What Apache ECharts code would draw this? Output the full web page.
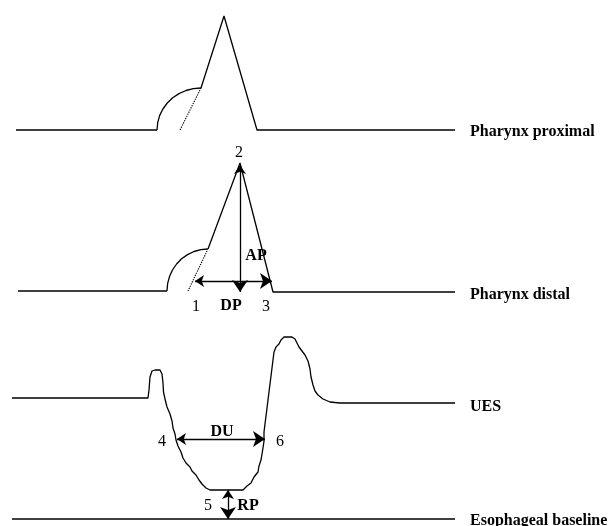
<!DOCTYPE html>
<html>
<head>
<meta charset="utf-8">
<script src="https://cdn.jsdelivr.net/npm/echarts@6/dist/echarts.min.js"></script>
<style>
  html, body { margin: 0; padding: 0; background: #fff; }
  #chart { width: 613px; height: 526px; }
</style>
</head>
<body>
<div id="chart"></div>
<script>
// Schematic pressure traces, drawn in a 613 x 526 diagram space (y grows downward).

// Pharynx proximal: baseline, shoulder, sharp peak, baseline
const proximalTrace = [
  [16, 130], [157, 130]
];
const proximalShoulder = [
  [157, 130], [157.7, 122.7], [159.6, 115.6], [162.9, 109], [167.3, 103],
  [172.7, 97.8], [179, 93.6], [186, 90.5], [193.3, 88.6], [201, 88]
];
const proximalPeak = [
  [201, 88], [224, 16], [257, 130], [455, 130]
];
const proximalDotted = [[201, 88], [180, 130]];

// Pharynx distal
const distalTrace = [
  [18, 291], [167, 291]
];
const distalShoulder = [
  [167, 291], [167.6, 283.7], [169.5, 276.6], [172.5, 270], [176.6, 264],
  [181.6, 258.8], [187.5, 254.6], [194, 251.5], [200.9, 249.6], [208, 249]
];
const distalPeak = [
  [208, 249], [240, 163], [273, 292], [455, 292]
];
const distalDotted = [[207, 251], [188, 291]];

// Upper esophageal sphincter
const uesTrace = [
  [12, 398], [148, 398], [149, 390], [150, 377], [152, 371], [155, 370],
  [160, 370], [162, 374], [163, 383], [163.5, 392], [165, 399], [167, 407],
  [170, 414], [172, 421], [173, 428], [175, 434], [176, 440], [178, 446],
  [181, 452], [183, 458], [186, 463], [190, 467], [192, 471], [196, 475],
  [199, 480], [202, 484], [206, 488], [210, 490], [243, 490], [247, 486],
  [251, 483], [254, 477], [258, 472], [259, 466], [261, 460], [262, 454],
  [263, 448], [264, 441], [264, 432], [265, 424], [266, 416], [267, 408],
  [268, 400], [269, 392], [270, 384], [271, 376], [272, 368], [273, 360],
  [274, 352], [276, 347], [279, 344], [281, 340], [284, 337], [292, 337],
  [295, 339], [297, 343], [299, 347], [302, 351], [305, 355], [308, 361],
  [310, 369], [311, 377], [313, 385], [315, 391], [318, 395], [323, 399],
  [330, 402], [340, 403], [455, 403]
];

// Esophageal baseline
const baselineTrace = [[12, 519], [455, 519]];

// Double-headed measurement arrows: AP, DP, DU, RP
const arrowSegments = [
  [[240, 165], [240, 292]],
  [[195, 281], [272, 281]],
  [[177, 439], [265, 439]],
  [[228, 490], [228, 519]]
];

// Trace names at the right edge
const traceNames = [
  ['Pharynx proximal', 470, 132],
  ['Pharynx distal', 470, 295],
  ['UES', 470, 407],
  ['Esophageal baseline', 470, 521]
];

// Measurement abbreviations (bold)
const measureLabels = [
  ['AP', 256, 256],
  ['DP', 231, 306],
  ['DU', 222, 432],
  ['RP', 248, 506]
];

// Landmark numbers
const pointNumbers = [
  ['1', 196, 307],
  ['2', 239, 153],
  ['3', 266, 307],
  ['4', 162, 442],
  ['5', 208, 506],
  ['6', 280, 442]
];

const ink = '#000';
const serif = '"Liberation Serif", "DejaVu Serif", serif';

function trace(data, type) {
  return {
    type: 'line',
    data: data,
    showSymbol: false,
    silent: true,
    animation: false,
    lineStyle: { color: ink, width: type === 'dotted' ? 1.2 : 1.3, type: type || 'solid' }
  };
}

function textSeries(items, weight, align) {
  return {
    type: 'scatter',
    symbolSize: 0,
    silent: true,
    animation: false,
    itemStyle: { color: ink, opacity: 1 },
    data: items.map(function (t) { return { value: [t[1], t[2]], name: t[0] }; }),
    label: {
      show: true,
      position: 'inside',
      formatter: function (p) { return p.name; },
      fontFamily: serif,
      fontSize: 16,
      fontWeight: weight,
      color: ink,
      textBorderWidth: 0,
      align: align,
      verticalAlign: 'middle'
    }
  };
}

const chart = echarts.init(document.getElementById('chart'), null, { renderer: 'canvas' });
chart.setOption({
  backgroundColor: '#fff',
  animation: false,
  grid: { left: 0, right: 0, top: 0, bottom: 0 },
  xAxis: { type: 'value', min: 0, max: 613, show: false },
  yAxis: { type: 'value', min: 0, max: 526, inverse: true, show: false },
  series: [
    trace(proximalTrace),
    trace(proximalShoulder),
    trace(proximalPeak),
    trace(proximalDotted, 'dotted'),
    trace(distalTrace),
    trace(distalShoulder),
    trace(distalPeak),
    trace(distalDotted, 'dotted'),
    trace(uesTrace),
    trace(baselineTrace),
    {
      type: 'lines',
      coordinateSystem: 'cartesian2d',
      silent: true,
      animation: false,
      symbol: ['arrow', 'arrow'],
      symbolSize: [9, 12],
      lineStyle: { color: ink, width: 1.3, opacity: 1 },
      data: arrowSegments.map(function (s) { return { coords: s }; })
    },
    textSeries(traceNames, 'bold', 'left'),
    textSeries(measureLabels, 'bold', 'center'),
    textSeries(pointNumbers, 'normal', 'center')
  ]
});
</script>
</body>
</html>
